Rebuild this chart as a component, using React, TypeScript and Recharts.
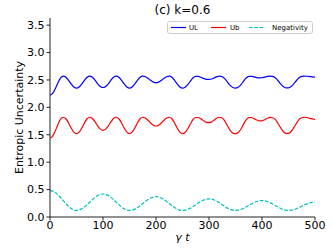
import React from 'react';
import { LineChart, Line, XAxis, YAxis, Label } from 'recharts';

const T = [
  0, 5, 10, 15, 20, 25, 30, 35, 40, 45, 50,
  55, 60, 65, 70, 75, 80, 85, 90, 95, 100,
  105, 110, 115, 120, 125, 130, 135, 140, 145, 150,
  155, 160, 165, 170, 175, 180, 185, 190, 195, 200,
  205, 210, 215, 220, 225, 230, 235, 240, 245, 250,
  255, 260, 265, 270, 275, 280, 285, 290, 295, 300,
  305, 310, 315, 320, 325, 330, 335, 340, 345, 350,
  355, 360, 365, 370, 375, 380, 385, 390, 395, 400,
  405, 410, 415, 420, 425, 430, 435, 440, 445, 450,
  455, 460, 465, 470, 475, 480, 485, 490, 495, 500,
];

const UL = [
  2.22, 2.253, 2.341, 2.449, 2.537, 2.57, 2.549, 2.494, 2.426, 2.371, 2.35,
  2.371, 2.426, 2.494, 2.549, 2.57, 2.55, 2.498, 2.43, 2.382, 2.362,
  2.382, 2.43, 2.498, 2.55, 2.57, 2.549, 2.494, 2.426, 2.371, 2.35,
  2.371, 2.426, 2.494, 2.549, 2.57, 2.559, 2.529, 2.491, 2.461, 2.45,
  2.461, 2.491, 2.529, 2.559, 2.57, 2.549, 2.494, 2.426, 2.371, 2.35,
  2.368, 2.415, 2.48, 2.54, 2.567, 2.566, 2.548, 2.527, 2.512, 2.51,
  2.518, 2.538, 2.56, 2.57, 2.558, 2.52, 2.46, 2.4, 2.362, 2.35,
  2.365, 2.41, 2.475, 2.535, 2.566, 2.567, 2.555, 2.543, 2.538, 2.54,
  2.552, 2.565, 2.57, 2.565, 2.54, 2.49, 2.43, 2.38, 2.355, 2.355,
  2.38, 2.43, 2.49, 2.54, 2.565, 2.57, 2.567, 2.562, 2.557, 2.553,
];

const UB = [
  1.44, 1.476, 1.571, 1.689, 1.784, 1.82, 1.792, 1.716, 1.624, 1.548, 1.52,
  1.548, 1.624, 1.716, 1.792, 1.82, 1.797, 1.737, 1.663, 1.603, 1.58,
  1.603, 1.663, 1.737, 1.797, 1.82, 1.792, 1.716, 1.624, 1.548, 1.52,
  1.548, 1.624, 1.716, 1.792, 1.82, 1.805, 1.765, 1.715, 1.675, 1.66,
  1.675, 1.715, 1.765, 1.805, 1.82, 1.792, 1.716, 1.624, 1.548, 1.52,
  1.545, 1.61, 1.7, 1.78, 1.815, 1.815, 1.79, 1.755, 1.727, 1.72,
  1.735, 1.77, 1.805, 1.82, 1.805, 1.75, 1.66, 1.58, 1.53, 1.52,
  1.54, 1.6, 1.69, 1.77, 1.812, 1.815, 1.795, 1.77, 1.753, 1.755,
  1.775, 1.8, 1.818, 1.81, 1.78, 1.71, 1.63, 1.56, 1.525, 1.525,
  1.56, 1.63, 1.71, 1.78, 1.81, 1.82, 1.815, 1.8, 1.79, 1.78,
];

const NEG = [
  0.48, 0.471, 0.446, 0.406, 0.356, 0.3, 0.244, 0.194, 0.154, 0.129, 0.12,
  0.127, 0.149, 0.182, 0.224, 0.27, 0.316, 0.358, 0.392, 0.413, 0.42,
  0.413, 0.392, 0.358, 0.316, 0.27, 0.224, 0.182, 0.149, 0.127, 0.12,
  0.126, 0.144, 0.172, 0.206, 0.245, 0.284, 0.319, 0.346, 0.364, 0.37,
  0.364, 0.346, 0.319, 0.284, 0.245, 0.206, 0.172, 0.144, 0.126, 0.12,
  0.125, 0.14, 0.162, 0.192, 0.225, 0.258, 0.287, 0.31, 0.325, 0.33,
  0.325, 0.31, 0.287, 0.258, 0.225, 0.192, 0.162, 0.14, 0.125, 0.12,
  0.124, 0.137, 0.156, 0.182, 0.21, 0.238, 0.263, 0.283, 0.296, 0.3,
  0.296, 0.283, 0.263, 0.238, 0.21, 0.182, 0.156, 0.137, 0.124, 0.12,
  0.124, 0.134, 0.151, 0.172, 0.195, 0.218, 0.239, 0.256, 0.266, 0.27,
];

const X_TICKS = [0, 100, 200, 300, 400, 500];
const Y_TICKS = [0, 0.5, 1, 1.5, 2, 2.5, 3, 3.5];

const FONT = "'DejaVu Sans', sans-serif";
const AXIS = '#222';

const data = T.map((t, i) => ({ t, ul: UL[i], ub: UB[i], neg: NEG[i] }));

const tickStyle = { fill: '#000', fontSize: 11, fontFamily: FONT };

export default function App() {
  return (
    <div style={{ position: 'absolute', left: 0, top: 0, width: 332, height: 249, fontFamily: FONT }}>
      <LineChart width={332} height={249} data={data} margin={{ top: 18, right: 17, bottom: 0, left: 0 }}>
        <XAxis
          dataKey="t"
          type="number"
          domain={[0, 500]}
          ticks={X_TICKS}
          height={32}
          tick={tickStyle}
          tickSize={3.5}
          tickMargin={1}
          stroke={AXIS}
          allowDataOverflow
        >
          <Label
            content={() => (
              <text x={182.5} y={237} textAnchor="middle" dominantBaseline="central"
                style={{ fontFamily: FONT, fontSize: 11, fontStyle: 'italic' }}>
                γ t
              </text>
            )}
          />
        </XAxis>
        <XAxis xAxisId="top" orientation="top" dataKey="t" type="number" domain={[0, 500]}
          height={0} tick={false} tickLine={false} stroke={AXIS} />
        <YAxis
          type="number"
          domain={[0, 3.63]}
          ticks={Y_TICKS}
          width={50}
          tick={tickStyle}
          tickSize={3.5}
          tickMargin={2}
          stroke={AXIS}
          tickFormatter={(v: number) => v.toFixed(1)}
          allowDataOverflow
        >
          <Label
            content={() => (
              <text x={19} y={117.5} textAnchor="middle" dominantBaseline="central"
                transform="rotate(-90 19 117.5)"
                style={{ fontFamily: FONT, fontSize: 11 }}>
                Entropic Uncertainty
              </text>
            )}
          />
        </YAxis>
        <YAxis yAxisId="right" orientation="right" type="number" domain={[0, 3.63]}
          width={0} tick={false} tickLine={false} stroke={AXIS} />
        <Line dataKey="ul" type="monotone" stroke="#0000ff" strokeWidth={1.2} dot={false} isAnimationActive={false} />
        <Line dataKey="ub" type="monotone" stroke="#ff0000" strokeWidth={1.2} dot={false} isAnimationActive={false} />
        <Line dataKey="neg" type="monotone" stroke="#00bfbf" strokeWidth={1.2} strokeDasharray="3.7 1.6"
          dot={false} isAnimationActive={false} />
      </LineChart>

      <svg width={332} height={249} style={{ position: 'absolute', left: 0, top: 0, pointerEvents: 'none' }}>
        <text x={182.5} y={10} textAnchor="middle" dominantBaseline="central"
          style={{ fontFamily: FONT, fontSize: 12 }}>
          (c) k=0.6
        </text>
        <g transform="translate(167,21)">
          <rect x={0.5} y={0.5} width={145} height={12} rx={2} fill="rgba(255,255,255,0.8)" stroke="#cccccc" />
          <line x1={4} x2={19} y1={6.5} y2={6.5} stroke="#0000ff" strokeWidth={1.2} />
          <text x={22} y={6.8} dominantBaseline="central" style={{ fontFamily: FONT, fontSize: 7 }}>UL</text>
          <line x1={44} x2={59} y1={6.5} y2={6.5} stroke="#ff0000" strokeWidth={1.2} />
          <text x={63} y={6.8} dominantBaseline="central" style={{ fontFamily: FONT, fontSize: 7 }}>Ub</text>
          <line x1={82} x2={97} y1={6.5} y2={6.5} stroke="#00bfbf" strokeWidth={1.2} strokeDasharray="3.7 1.6" />
          <text x={105} y={6.8} dominantBaseline="central" style={{ fontFamily: FONT, fontSize: 7 }}>Negativity</text>
        </g>
      </svg>
    </div>
  );
}
